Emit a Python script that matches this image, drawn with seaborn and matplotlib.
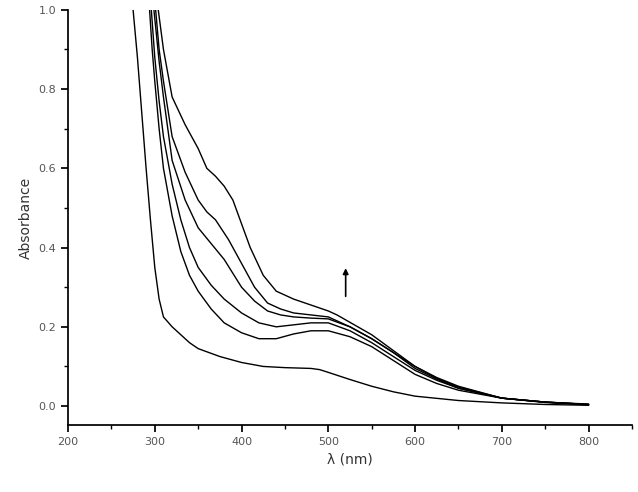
import matplotlib

matplotlib.use("Agg")
import matplotlib.pyplot as plt
import numpy as np
import pandas as pd
import seaborn as sns

# wavelength (nm) / absorbance pairs, lowest curve first
spectra = [
    ([275, 280, 285, 290, 295, 300, 305, 310, 320, 330, 340, 350, 375, 400, 425, 450, 480, 490, 500, 525, 550, 575, 600, 650, 700, 750, 800],
     [1.0, 0.88, 0.74, 0.6, 0.47, 0.35, 0.27, 0.225, 0.2, 0.18, 0.16, 0.145, 0.125, 0.11, 0.1, 0.097, 0.095, 0.092, 0.085, 0.067, 0.05, 0.036, 0.025, 0.014, 0.008, 0.004, 0.002]),
    ([294, 297, 300, 305, 310, 320, 330, 340, 350, 365, 380, 400, 420, 440, 460, 480, 500, 525, 550, 575, 600, 625, 650, 700, 750, 800],
     [1.0, 0.9, 0.82, 0.7, 0.6, 0.48, 0.39, 0.33, 0.29, 0.245, 0.21, 0.185, 0.17, 0.17, 0.182, 0.19, 0.19, 0.175, 0.15, 0.115, 0.08, 0.057, 0.04, 0.02, 0.009, 0.003]),
    ([296, 300, 305, 310, 320, 330, 340, 350, 365, 380, 400, 420, 440, 460, 480, 500, 525, 550, 575, 600, 625, 650, 700, 750, 800],
     [1.0, 0.88, 0.77, 0.68, 0.56, 0.47, 0.4, 0.35, 0.305, 0.27, 0.235, 0.21, 0.2, 0.205, 0.21, 0.21, 0.19, 0.16, 0.125, 0.09, 0.065, 0.045, 0.02, 0.01, 0.004]),
    ([299, 305, 310, 320, 335, 350, 365, 380, 390, 400, 415, 430, 445, 460, 480, 500, 525, 550, 575, 600, 625, 650, 700, 750, 800],
     [1.0, 0.87, 0.78, 0.62, 0.52, 0.45, 0.41, 0.37, 0.335, 0.3, 0.265, 0.24, 0.23, 0.225, 0.222, 0.22, 0.2, 0.17, 0.135, 0.095, 0.068, 0.045, 0.02, 0.01, 0.004]),
    ([301, 305, 310, 320, 335, 350, 360, 370, 385, 400, 415, 430, 445, 460, 480, 500, 525, 550, 575, 600, 625, 650, 700, 750, 800],
     [1.0, 0.9, 0.82, 0.68, 0.59, 0.52, 0.49, 0.47, 0.42, 0.36, 0.3, 0.26, 0.245, 0.235, 0.23, 0.225, 0.2, 0.17, 0.135, 0.1, 0.07, 0.048, 0.02, 0.01, 0.004]),
    ([304, 310, 320, 335, 350, 360, 370, 380, 390, 400, 410, 425, 440, 460, 480, 500, 510, 530, 550, 575, 600, 625, 650, 700, 750, 800],
     [1.0, 0.9, 0.78, 0.71, 0.65, 0.6, 0.58, 0.555, 0.52, 0.46, 0.4, 0.33, 0.29, 0.27, 0.255, 0.24, 0.23, 0.205, 0.18, 0.14, 0.1, 0.072, 0.05, 0.02, 0.01, 0.005]),
]

frames = []
for i, (wl, ab) in enumerate(spectra):
    frames.append(pd.DataFrame({"wl": wl, "abs": ab, "curve": i}))
df = pd.concat(frames)

sns.set_theme(style="ticks")
plt.rcParams["font.family"] = ["DejaVu Sans"]

fig = plt.figure(figsize=(6.38, 4.92), dpi=100)
ax = fig.add_axes([0.1066, 0.136, 0.884, 0.844])
sns.lineplot(data=df, x="wl", y="abs", units="curve", estimator=None,
             color="black", linewidth=1.0, ax=ax, sort=False)

ax.set_xlim(200, 850)
ax.set_ylim(-0.048, 1.0)
ax.set_xticks(np.arange(200, 801, 100))
ax.set_yticks(np.arange(0, 1.01, 0.2))
ax.set_yticklabels([f"{v:.1f}" for v in np.arange(0, 1.01, 0.2)])
ax.set_xticks(np.arange(250, 851, 100), minor=True)
ax.set_yticks(np.arange(0.1, 1.0, 0.2), minor=True)
ax.tick_params(which="both", direction="out", color="black", labelcolor="#555555", labelsize=8)
ax.tick_params(which="major", length=5)
ax.tick_params(which="minor", length=3)
for s in ["top", "right"]:
    ax.spines[s].set_visible(False)
for s in ["left", "bottom"]:
    ax.spines[s].set_color("black")
ax.set_xlabel("λ (nm)", fontsize=10, color="#333333")
ax.set_ylabel("Absorbance", fontsize=10, color="#333333")

ax.annotate("", xy=(520, 0.355), xytext=(520, 0.27),
            arrowprops=dict(arrowstyle="-|>", color="black", lw=1.2, mutation_scale=8))

fig.savefig("out.png", dpi=100)
